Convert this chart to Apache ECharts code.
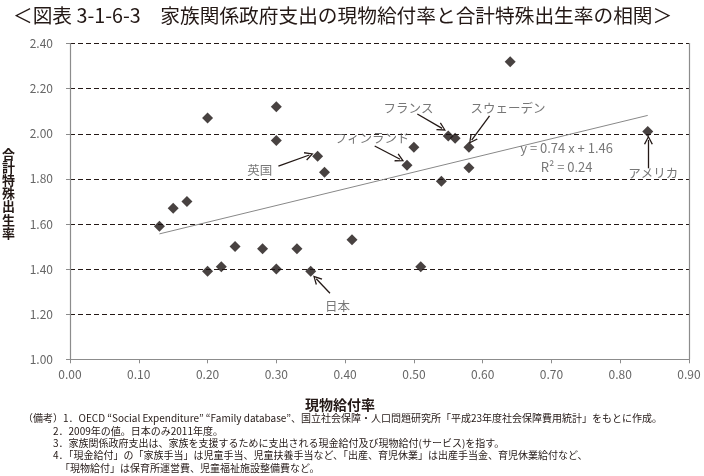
<!DOCTYPE html>
<html>
<head>
<meta charset="utf-8">
<script src="https://cdn.jsdelivr.net/npm/echarts@6/dist/echarts.min.js"></script>
<style>
  html, body { margin: 0; padding: 0; background: #fff; }
  #chart { width: 704px; height: 476px; }
</style>
</head>
<body>
<div id="chart"></div>
<script>
// 現物給付率 (x) と 合計特殊出生率 (y)
var benefitRate = [0.13, 0.15, 0.17, 0.20, 0.20, 0.22, 0.24, 0.28, 0.30, 0.30, 0.30, 0.33, 0.35,
    0.36, 0.37, 0.41, 0.49, 0.50, 0.51, 0.54, 0.55, 0.56, 0.58, 0.58, 0.64, 0.84];
var fertility = [1.59, 1.67, 1.70, 2.07, 1.39, 1.41, 1.50, 1.49, 2.12, 1.97, 1.40, 1.49, 1.39,
    1.90, 1.83, 1.53, 1.86, 1.94, 1.41, 1.79, 1.99, 1.98, 1.94, 1.85, 2.32, 2.01];

// 近似直線
var slope = 0.74, intercept = 1.46, r2 = 0.24;

// 注記 (国名) : 文字位置と矢印
var noteNames = ['英国', '日本', 'フランス', 'スウェーデン', 'フィンランド', 'アメリカ'];
var notePos = [[0.276, 1.84], [0.389, 1.236], [0.492, 2.113], [0.637, 2.113], [0.439, 1.981], [0.848, 1.825]];
var arrowFrom = [[0.303, 1.857], [0.378, 1.293], [0.505, 2.088], [0.610, 2.079], [0.443, 1.946], [0.841, 1.847]];
var arrowTo = [[0.348, 1.906], [0.358, 1.357], [0.541, 2.024], [0.584, 1.972], [0.480, 1.887], [0.841, 1.973]];
var eqPos = [0.722, 1.895];

var xTicks = { min: 0, max: 0.9, interval: 0.1 };
var yTicks = { min: 1.0, max: 2.4, interval: 0.2 };

var notes = [
    '（備考）1．OECD “Social Expenditure” “Family database”、国立社会保障・人口問題研究所「平成23年度社会保障費用統計」をもとに作成。',
    '2．2009年の値。日本のみ2011年度。',
    '3．家族関係政府支出は、家族を支援するために支出される現金給付及び現物給付(サービス)を指す。',
    '4．「現金給付」の「家族手当」は児童手当、児童扶養手当など、「出産、育児休業」は出産手当金、育児休業給付など、',
    '「現物給付」は保育所運営費、児童福祉施設整備費など。'
];

var points = benefitRate.map(function (x, i) { return [x, fertility[i]]; });
var xMin = Math.min.apply(null, benefitRate), xMax = Math.max.apply(null, benefitRate);
var trend = [[xMin, slope * xMin + intercept], [xMax, slope * xMax + intercept]];

var labelData = noteNames.map(function (n, i) { return { name: n, value: notePos[i] }; });
labelData.push({
    name: 'y = ' + slope.toFixed(2) + ' x + ' + intercept.toFixed(2) + '\nR² = ' + r2.toFixed(2),
    value: eqPos,
    label: { fontSize: 13, lineHeight: 18.5 }
});
var arrows = arrowFrom.map(function (f, i) { return [{ coord: f }, { coord: arrowTo[i] }]; });

var FONT = '"Noto Sans CJK JP", "Noto Sans", sans-serif';
var noteLeft = [23, 53, 53, 53, 60];
var noteTop = [413, 426, 438.5, 450.5, 463.5];

var myChart = echarts.init(document.getElementById('chart'));
var option = {
    animation: false,
    textStyle: { fontFamily: FONT },
    title: {
        text: '＜図表 3-1-6-3　家族関係政府支出の現物給付率と合計特殊出生率の相関＞',
        left: 8,
        top: 1,
        textStyle: { fontSize: 19.7, fontWeight: 'normal', color: '#231815', fontFamily: FONT }
    },
    grid: { left: 70, right: 15, top: 43.6, bottom: 116.7 },
    xAxis: {
        type: 'value',
        min: xTicks.min, max: xTicks.max, interval: xTicks.interval,
        axisLine: { show: true, lineStyle: { color: '#8c8c8c', width: 1.2 } },
        axisTick: { show: true, length: 4, lineStyle: { color: '#8c8c8c' } },
        axisLabel: { margin: 9, fontSize: 12, color: '#666', formatter: function (v) { return v.toFixed(2); } },
        splitLine: { show: false }
    },
    yAxis: [{
        type: 'value',
        min: yTicks.min, max: yTicks.max, interval: yTicks.interval,
        axisLine: { show: true, lineStyle: { color: '#8c8c8c', width: 1.2 } },
        axisTick: { show: true, length: 4, lineStyle: { color: '#8c8c8c' } },
        axisLabel: { margin: 17, fontSize: 12, color: '#666', formatter: function (v) { return v.toFixed(2); } },
        splitLine: { show: true, lineStyle: { color: '#231815', type: [5, 3], width: 1.2 } }
    }, {
        // 右枠
        type: 'value', position: 'right',
        min: yTicks.min, max: yTicks.max, interval: yTicks.interval,
        axisLine: { show: true, lineStyle: { color: '#8c8c8c', width: 1.2 } },
        axisTick: { show: false }, axisLabel: { show: false }, splitLine: { show: false }
    }],
    series: [{
        name: '近似直線',
        type: 'line',
        data: trend,
        symbol: 'none',
        silent: true,
        lineStyle: { color: '#888', width: 1 },
        z: 2
    }, {
        name: '各国',
        type: 'scatter',
        data: points,
        symbol: 'diamond',
        symbolSize: 11,
        itemStyle: { color: '#1a1311' },
        z: 3
    }, {
        name: '注記',
        type: 'scatter',
        data: labelData,
        symbolSize: 0,
        silent: true,
        label: {
            show: true, position: 'inside', formatter: '{b}',
            fontSize: 12.5, color: '#555', lineHeight: 17, align: 'center'
        },
        markLine: {
            silent: true,
            symbol: ['none', 'path://M0,10 L5,0 L10,10 L8.6,10.6 L5,3 L1.4,10.6 Z'],
            symbolSize: [9, 9],
            label: { show: false },
            lineStyle: { color: '#231815', width: 1.3, type: 'solid' },
            data: arrows
        },
        z: 4
    }],
    graphic: [{
        type: 'text', left: 2, top: 147,
        style: { text: '合\n計\n特\n殊\n出\n生\n率', font: 'bold 13px ' + FONT, fill: '#231815', lineHeight: 13.2 }
    }, {
        type: 'text', x: 340, y: 405,
        style: { text: '現物給付率', font: 'bold 14px ' + FONT, fill: '#231815', align: 'center', verticalAlign: 'middle' }
    }].concat(notes.map(function (t, i) {
        return {
            type: 'text', left: noteLeft[i], top: noteTop[i],
            style: { text: t, font: '10px ' + FONT, fill: '#231815' }
        };
    }))
};

option && myChart.setOption(option);
</script>
</body>
</html>
